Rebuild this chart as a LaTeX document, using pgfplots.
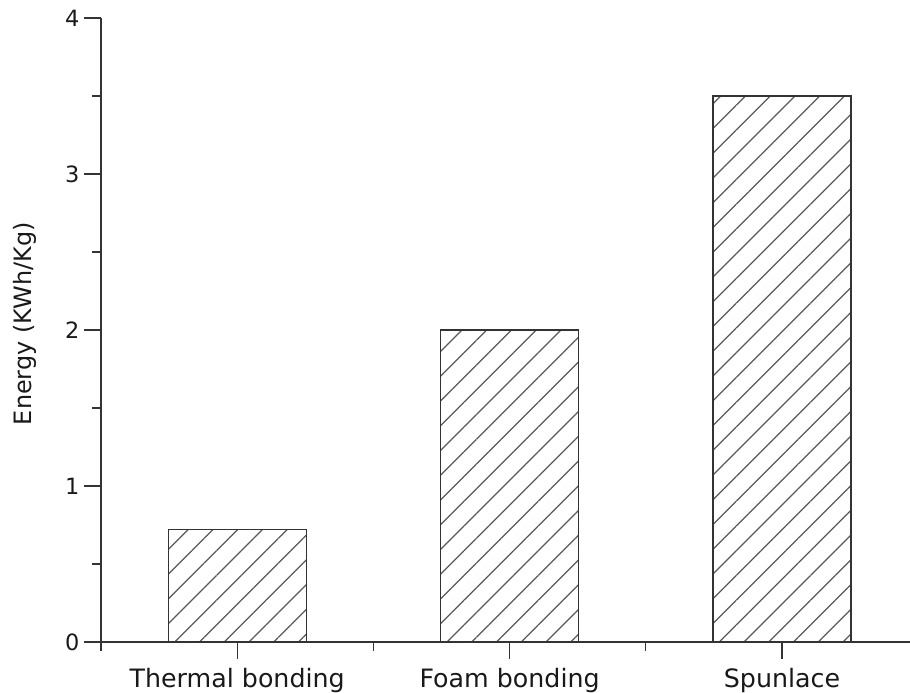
\documentclass[border=0pt]{standalone}
\usepackage{fontspec}
\setmainfont{DejaVu Sans}
\usepackage{pgfplots}
\pgfplotsset{compat=1.18}
\usetikzlibrary{patterns.meta}
\begin{document}
\begin{tikzpicture}
\begin{axis}[
  scale only axis, width=809bp, height=624bp,
  xmin=-0.5, xmax=2.47, ymin=0, ymax=4,
  axis x line=bottom, axis y line=left,
  axis line style={-, line width=1.3bp, draw=black!80},
  xtick={0,1,2}, xticklabels={Thermal bonding, Foam bonding, Spunlace},
  minor xtick={-0.5,0.5,1.5},
  ytick={0,1,2,3,4}, minor ytick={0.5,1.5,2.5,3.5},
  yticklabels={0,1,2,3,4},
  tick align=outside,
  major tick length=17bp, minor tick length=9bp,
  every tick/.style={line width=1.3bp, black!80},
  y tick label style={font=\fontsize{22.5}{27}\selectfont, text=black!90, xshift=-1bp},
  x tick label style={font=\fontsize{25.4}{30}\selectfont, text=black!90, yshift=-6bp},
  ylabel={Energy (KWh/Kg)},
  every axis y label/.style={at={(axis description cs:-0.094,0.51)}, rotate=90, anchor=center, font=\fontsize{24}{29}\selectfont, text=black!90},
  clip=false,
]
\addplot[ybar, bar width=138bp, draw=black!80, line width=1.3bp,
  pattern={Lines[angle=45,distance=17.5bp,line width=1.2bp]}, pattern color=black!65]
  coordinates {(0,0.72) (1,2) (2,3.5)};
\coordinate (o) at (rel axis cs:0,0);
\end{axis}
\pgfresetboundingbox
\path[use as bounding box] ([xshift=-101bp,yshift=-51bp]o) rectangle ([xshift=809bp,yshift=642bp]o);
\end{tikzpicture}
\end{document}
